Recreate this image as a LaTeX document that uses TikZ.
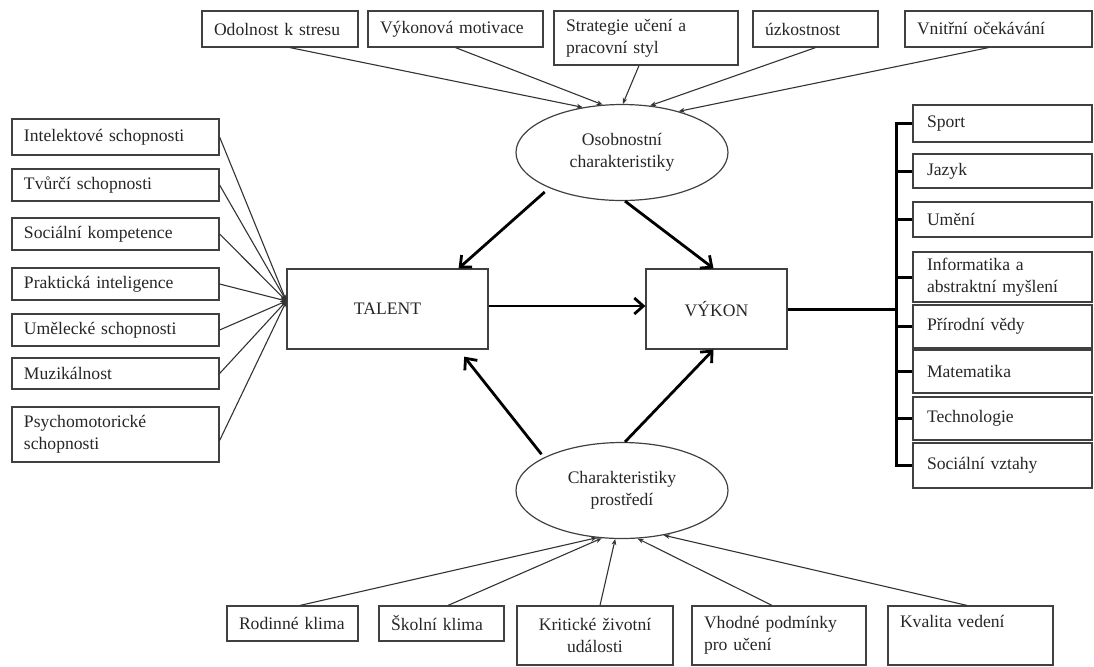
\documentclass[tikz,border=0pt]{standalone}
\usepackage{fontspec}
\setmainfont{Liberation Serif}
\usetikzlibrary{shapes.geometric,arrows.meta}
\tikzset{
  every node/.style={font=\fontsize{8.8pt}{10.8pt}\selectfont, text=black!85},
  box/.style={draw=black!75, line width=0.6pt, rectangle, inner xsep=6pt, inner ysep=0pt, align=left},
  bigbox/.style={draw=black!75, line width=0.6pt, rectangle, inner sep=0pt, minimum height=40pt},
  oval/.style={draw=black!75, line width=0.6pt, ellipse, inner sep=0pt, minimum width=106pt, minimum height=48pt, align=center},
  tarr/.style={draw=black!80, line width=0.55pt, -{Stealth[length=3pt,width=2.4pt]}},
  karr/.style={draw=black, line width=1.4pt, -{Straight Barb[length=4.5pt,width=8pt]}},
  trunk/.style={draw=black, line width=1.5pt}
}
\begin{document}
\begin{tikzpicture}[x=0.5pt,y=-0.5pt]
\useasboundingbox (0,0) rectangle (1094,666);
% top boxes
\node[box, minimum width=78pt, text width=66pt, minimum height=18pt] (odol) at (280,29) {Odolnost k stresu};
\node[box, minimum width=87.5pt, text width=75.5pt, minimum height=18pt] (vykmot) at (455.5,29) {Výkonová motivace};
\node[box, minimum width=92pt, text width=80pt, minimum height=27pt] (strat) at (646,38) {Strategie učení a\\pracovní styl};
\node[box, minimum width=62.5pt, text width=50.5pt, minimum height=18pt] (uzk) at (815.5,29) {úzkostnost};
\node[box, minimum width=93.5pt, text width=81.5pt, minimum height=18pt] (vnitr) at (998.5,29) {Vnitřní očekávání};
% left boxes
\node[box, minimum width=103.5pt, text width=91.5pt, minimum height=18pt] (intel) at (115.5,137) {Intelektové schopnosti};
\node[box, minimum width=103.5pt, text width=91.5pt, minimum height=16pt] (tvur) at (115.5,185) {Tvůrčí schopnosti};
\node[box, minimum width=103.5pt, text width=91.5pt, minimum height=16pt] (socko) at (115.5,234) {Sociální kompetence};
\node[box, minimum width=103.5pt, text width=91.5pt, minimum height=16pt] (prakt) at (115.5,284) {Praktická inteligence};
\node[box, minimum width=103.5pt, text width=91.5pt, minimum height=16pt] (umel) at (115.5,330) {Umělecké schopnosti};
\node[box, minimum width=103.5pt, text width=91.5pt, minimum height=15.5pt] (muz) at (115.5,373.5) {Muzikálnost};
\node[box, minimum width=103.5pt, text width=91.5pt, minimum height=27.5pt] (psych) at (115.5,434.5) {Psychomotorické\\schopnosti};
% centre
\node[bigbox, minimum width=100.5pt] (talent) at (387.5,309) {TALENT};
\node[bigbox, minimum width=70.5pt] (vykon) at (716.5,309) {VÝKON};
\node[oval] (osob) at (622,152.5) {Osobnostní\\charakteristiky};
\node[oval] (char) at (622,490.5) {Charakteristiky\\prostředí};
% right boxes
\node[box, inner xsep=7pt, minimum width=89.5pt, text width=75.5pt, minimum height=18.5pt] (sport) at (1002.5,123.5) {Sport};
\node[box, inner xsep=7pt, minimum width=89.5pt, text width=75.5pt, minimum height=17pt] (jazyk) at (1002.5,171) {Jazyk};
\node[box, inner xsep=7pt, minimum width=89.5pt, text width=75.5pt, minimum height=17.5pt] (umeni) at (1002.5,219.5) {Umění};
\node[box, inner xsep=7pt, minimum width=89.5pt, text width=75.5pt, minimum height=25pt] (infor) at (1002.5,277) {Informatika a\\abstraktní myšlení};
\node[box, inner xsep=7pt, minimum width=89.5pt, text width=75.5pt, minimum height=21.5pt] (prir) at (1002.5,326.5) {Přírodní vědy};
\node[box, inner xsep=7pt, minimum width=89.5pt, text width=75.5pt, minimum height=21.5pt] (mat) at (1002.5,371.5) {Matematika};
\node[box, inner xsep=7pt, minimum width=89.5pt, text width=75.5pt, minimum height=21.5pt] (tech) at (1002.5,418.5) {Technologie};
\node[box, inner xsep=7pt, minimum width=89.5pt, text width=75.5pt, minimum height=22.5pt] (socv) at (1002.5,465.5) {Sociální vztahy};
% bottom boxes
\node[box, minimum width=65.5pt, text width=53.5pt, minimum height=17.5pt] (rodin) at (292.5,623.5) {Rodinné klima};
\node[box, minimum width=62.5pt, text width=50.5pt, minimum height=17.5pt] (skol) at (441.5,623.5) {Školní klima};
\node[box, minimum width=78pt, text width=66pt, minimum height=29.5pt, align=center] (krit) at (595,635.5) {Kritické životní\\události};
\node[box, minimum width=87pt, text width=75pt, minimum height=29.5pt] (vhod) at (779,635.5) {Vhodné podmínky\\pro učení};
\node[box, minimum width=82.5pt, text width=70.5pt, minimum height=29.5pt] (kval) at (970.5,635.5) {Kvalita vedení\\\strut};
% thin arrows top
\draw[tarr] ([xshift=5pt]odol.south) -- (osob.131);
\draw[tarr] (vykmot.south) -- (osob.112);
\draw[tarr] ([xshift=-3.5pt]strat.south) -- (osob.89);
\draw[tarr] (uzk.south) -- (osob.59);
\draw[tarr] ([xshift=-5pt]vnitr.south) -- (osob.36);
% thin arrows left
\foreach \n in {intel,tvur,socko,prakt,umel,muz}
  \draw[tarr] (\n.east) -- ([yshift=4pt]talent.west);
\draw[tarr] ([yshift=-3pt]psych.east) -- ([yshift=4pt]talent.west);
% thin arrows bottom
\draw[tarr] ([xshift=3.75pt]rodin.north) -- (char.-118);
\draw[tarr] ([xshift=3.25pt]skol.north) -- (char.-113);
\draw[tarr] ([xshift=2.5pt]krit.north) -- (char.-98);
\draw[tarr] ([xshift=-3.5pt]vhod.north) -- (char.-72);
\draw[tarr] ([xshift=-1.75pt]kval.north) -- (char.-47);
% thick arrows
\draw[karr, shorten <=3pt] (osob.-154) -- ([xshift=-15pt]talent.north east);
\draw[karr] ([xshift=1.5pt]osob.south) -- ([xshift=-1.5pt]vykon.north);
\draw[karr] ([yshift=1.5pt]talent.east) -- ([yshift=1.5pt]vykon.west);
\draw[karr, shorten <=2pt, shorten >=4.5pt] (char.157) -- ([xshift=-15pt]talent.south east);
\draw[karr] ([xshift=1.5pt]char.north) -- ([xshift=-1.5pt]vykon.south);
% right tree
\coordinate (tr) at ([xshift=-8pt]sport.west);
\draw[trunk] (sport.west) -- (tr) |- (socv.west);
\foreach \n in {jazyk,umeni,infor,prir,mat,tech}
  \draw[trunk] (\n.west) -- (\n.west -| tr);
\draw[trunk] (vykon.east) -- (vykon.east -| tr);
\end{tikzpicture}
\end{document}
